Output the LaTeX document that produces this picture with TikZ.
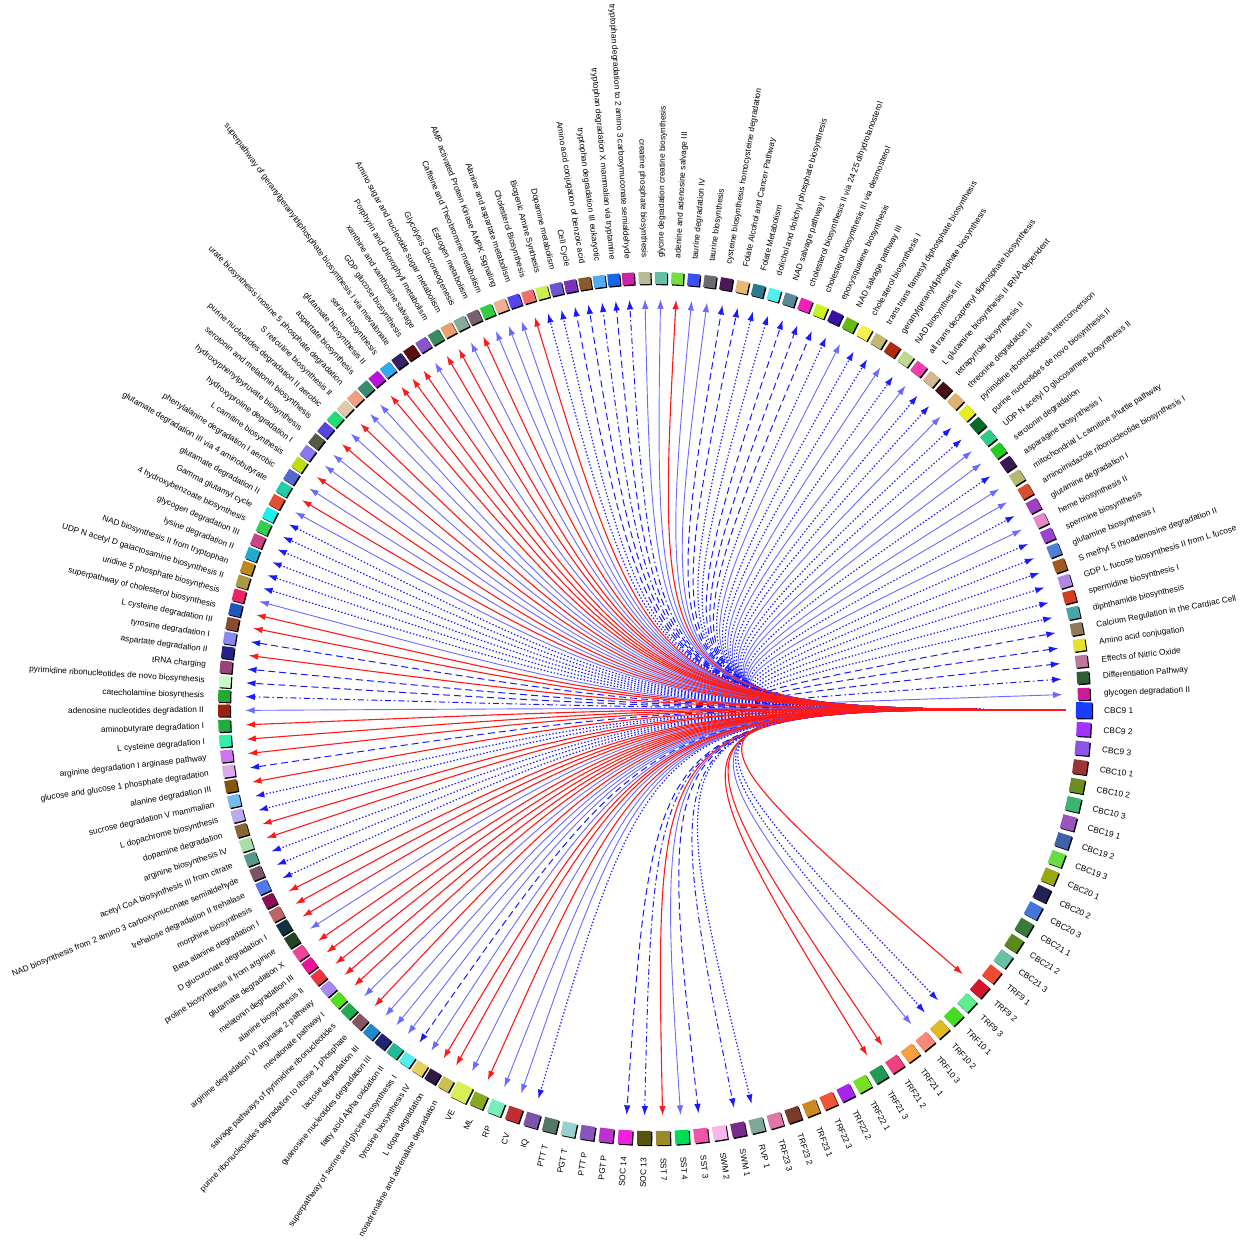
\documentclass[tikz,border=0pt]{standalone}
\usepackage{fontspec}
\setmainfont{Liberation Sans}
\usetikzlibrary{arrows.meta,shadows}
\definecolor{ered}{HTML}{FF1A1A}
\definecolor{eblue}{HTML}{1A1AFF}
\definecolor{elblue}{HTML}{6A6AFF}
\tikzset{
  sq/.style={minimum size=12pt,inner sep=0pt,draw=none,
    drop shadow={fill=black,opacity=1,shadow xshift=1.2pt,shadow yshift=-1.2pt}},
  lab/.style={font=\fontsize{8.3}{9}\selectfont,inner sep=0pt,text=black},
  eb/.style={line width=1pt,-{Latex[length=9.5pt,width=6.5pt]},shorten <=10pt,shorten >=15pt},
  eR/.style={eb,ered,line width=1.1pt},
  eB/.style={eb,elblue,line width=0.9pt},
  eD/.style={eb,eblue,dash pattern=on 7pt off 4pt},
  eT/.style={eb,eblue,line width=1.2pt,dash pattern=on 1.4pt off 2pt},
  eX/.style={eb,eblue,dash pattern=on 6pt off 3pt on 1.5pt off 3pt},
}
\begin{document}
\begin{tikzpicture}[x=1pt,y=1pt]
\useasboundingbox[fill=white] (-654,-540) rectangle (594,708);
\coordinate (ctr) at (0,0);
\foreach \i/\col/\lab in {
1/1A3CFF/CBC9 1,
2/CC1A99/glycogen degradation II,
3/2E5E38/Differentiation Pathway,
4/BB7A99/Effects of Nitric Oxide,
5/E6E030/Amino acid conjugation,
6/8F7A5A/Calcium Regulation in the Cardiac Cell,
7/4AA6A6/diphthamide biosynthesis,
8/D04020/spermidine biosynthesis I,
9/B088E0/GDP L fucose biosynthesis II from L fucose,
10/A05A20/S methyl 5 thioadenosine degradation II,
11/5080D8/glutamine biosynthesis I,
12/9944CC/spermine biosynthesis,
13/E688C8/heme biosynthesis II,
14/A040C0/glutamine degradation I,
15/D65030/aminoimidazole ribonucleotide biosynthesis I,
16/B8B870/mitochondrial L carnitine shuttle pathway,
17/3A1A50/asparagine biosynthesis I,
18/22CC22/serotonin degradation,
19/2ECC88/UDP N acetyl D glucosamine biosynthesis II,
20/0A6A2A/purine nucleotides de novo biosynthesis II,
21/E6EE20/pyrimidine ribonucleotides interconversion,
22/E0B070/threonine degradation II,
23/4A1018/tetrapyrrole biosynthesis II,
24/D4B890/L glutamine biosynthesis II tRNA dependent,
25/F040B0/all trans decaprenyl diphosphate biosynthesis,
26/C0D890/NAD biosynthesis III,
27/B02A10/geranylgeranyldiphosphate biosynthesis,
28/C0B870/trans trans farnesyl diphosphate biosynthesis,
29/F8F050/cholesterol biosynthesis I,
30/66BB11/NAD salvage pathway III,
31/3A10A0/epoxysqualene biosynthesis,
32/CCF020/cholesterol biosynthesis III via desmosterol,
33/EE22BB/cholesterol biosynthesis II via 24 25 dihydrolanosterol,
34/5A8A98/NAD salvage pathway II,
35/55EEEE/dolichol and dolichyl phosphate biosynthesis,
36/2A7A90/Folate Metabolism,
37/E8B878/Folate Alcohol and Cancer Pathway,
38/4A1A58/cysteine biosynthesis homocysteine degradation,
39/6A6A70/taurine biosynthesis,
40/3A50F0/taurine degradation IV,
41/77DD44/adenine and adenosine salvage III,
42/66C0A8/glycine degradation creatine biosynthesis,
43/B8BA98/creatine phosphate biosynthesis,
44/CC22AA/tryptophan degradation to 2 amino 3 carboxymuconate semialdehyde,
45/1A66E8/tryptophan degradation X mammalian via tryptamine,
46/55AAEE/tryptophan degradation III eukaryotic,
47/8A5A2A/Amino acid conjugation of benzoic acid,
48/7A33BB/Cell Cycle,
49/6A55CC/Dopamine metabolism,
50/CCEE55/Biogenic Amine Synthesis,
51/F07070/Cholesterol Biosynthesis,
52/5544EE/Alanine and aspartate metabolism,
53/F0B090/AMP activated Protein Kinase AMPK Signaling,
54/33CC44/Caffeine and Theobromine metabolism,
55/776070/Estrogen metabolism,
56/88AA99/Glycolysis Gluconeogenesis,
57/E8A070/Amino sugar and nucleotide sugar metabolism,
58/3A8A60/Porphyrin and chlorophyll metabolism,
59/8A55CC/xanthine and xanthosine salvage,
60/5A1010/GDP glucose biosynthesis,
61/332266/superpathway of geranylgeranyldiphosphate biosynthesis I via mevalonate,
62/33AAEE/serine biosynthesis,
63/BB11DD/glutamate biosynthesis II,
64/3A8A70/aspartate biosynthesis,
65/F0A080/urate biosynthesis inosine 5 phosphate degradation,
66/E0C8A8/S reticuline biosynthesis II,
67/22DD77/purine nucleotides degradation II aerobic,
68/5544DD/serotonin and melatonin biosynthesis,
69/555A48/hydroxyphenylpyruvate biosynthesis,
70/8877EE/hydroxyproline degradation I,
71/BBDD11/L carnitine biosynthesis,
72/5566CC/phenylalanine degradation I aerobic,
73/22CCAA/glutamate degradation III via 4 aminobutyrate,
74/E05030/glutamate degradation II,
75/22EEEE/Gamma glutamyl cycle,
76/33CC55/4 hydroxybenzoate biosynthesis,
77/CC4488/glycogen degradation III,
78/22AACC/lysine degradation II,
79/BB8822/NAD biosynthesis II from tryptophan,
80/AA9944/UDP N acetyl D galactosamine biosynthesis II,
81/EE2266/uridine 5 phosphate biosynthesis,
82/2255BB/superpathway of cholesterol biosynthesis,
83/8A4A30/L cysteine degradation III,
84/8888EE/tyrosine degradation I,
85/222288/aspartate degradation II,
86/994477/tRNA charging,
87/CCF8CC/pyrimidine ribonucleotides de novo biosynthesis,
88/22AA33/catecholamine biosynthesis,
89/992211/adenosine nucleotides degradation II,
90/22AA44/aminobutyrate degradation I,
91/33EEAA/L cysteine degradation I,
92/CC77EE/arginine degradation I arginase pathway,
93/DDAAEE/glucose and glucose 1 phosphate degradation,
94/885511/alanine degradation III,
95/77BBEE/sucrose degradation V mammalian,
96/BBAAEE/L dopachrome biosynthesis,
97/886633/dopamine degradation,
98/AADDAA/arginine biosynthesis IV,
99/559988/acetyl CoA biosynthesis III from citrate,
100/775566/NAD biosynthesis from 2 amino 3 carboxymuconate semialdehyde,
101/5577EE/trehalose degradation II trehalase,
102/881155/morphine biosynthesis,
103/BB6666/Beta alanine degradation I,
104/113344/D glucuronate degradation I,
105/224422/proline biosynthesis II from arginine,
106/EE4499/glutamate degradation X,
107/EE1199/melatonin degradation III,
108/EE3344/alanine biosynthesis II,
109/AA88EE/arginine degradation VI arginase 2 pathway,
110/55DD22/mevalonate pathway I,
111/22AA55/salvage pathways of pyrimidine ribonucleotides,
112/885566/purine ribonucleosides degradation to ribose 1 phosphate,
113/2288CC/lactose degradation III,
114/222277/guanosine nucleotides degradation III,
115/22BB99/fatty acid Alpha oxidation II,
116/55EEF0/superpathway of serine and glycine biosynthesis I,
117/E8D060/tyrosine biosynthesis IV,
118/331A44/L dopa degradation,
119/CCC055/noradrenaline and adrenaline degradation,
120/D8F055/VE,
121/88AA22/ML,
122/77EEBB/RP,
123/BB3030/CV,
124/7755AA/IQ,
125/557766/PTT T,
126/99D0D0/PGT T,
127/8855BB/PTT P,
128/BB33CC/PGT P,
129/EE22DD/SOC 14,
130/555510/SOC 13,
131/9A8A2A/SST 7,
132/00DD55/SST 4,
133/EE55AA/SST 3,
134/F8B8EE/SWM 2,
135/7A2A8A/SWM 1,
136/7FA89A/RVP 1,
137/E077AA/TRF23 3,
138/7A3A2A/TRF23 2,
139/CC8822/TRF23 1,
140/F05535/TRF22 3,
141/AA22EE/TRF22 2,
142/77E022/TRF22 1,
143/229955/TRF21 3,
144/F04080/TRF21 2,
145/F8A040/TRF21 1,
146/F88878/TRF10 3,
147/DDBB22/TRF10 2,
148/44DD22/TRF10 1,
149/5EEE8E/TRF9 3,
150/D0182A/TRF9 2,
151/F04A30/TRF9 1,
152/66C2A5/CBC21 3,
153/5A8A1A/CBC21 2,
154/3A7A3A/CBC21 1,
155/4477DD/CBC20 3,
156/222255/CBC20 2,
157/99AA11/CBC20 1,
158/66DD44/CBC19 3,
159/4060A8/CBC19 2,
160/9955BB/CBC19 1,
161/3CB371/CBC10 3,
162/6B8E23/CBC10 2,
163/9B3535/CBC10 1,
164/8B55E8/CBC9 3,
165/A033FF/CBC9 2}{
  \pgfmathsetmacro{\a}{ifthenelse(\i<45,-0.3+(\i-1)*2.18,ifthenelse(\i<90,93.44+(\i-44)*1.931,ifthenelse(\i<120,180.34+(\i-89)*2.023,243.4+(\i-120)*2.528)))}
  \pgfmathsetmacro{\sz}{ifthenelse(\i==1,16,ifthenelse(\i==120,17,ifthenelse(\i>119,14,12)))}
  \definecolor{tmp}{HTML}{\col}
  \node[sq,fill=tmp,rotate=\a,minimum size=\sz pt] (n\i) at (\a:430) {};
  \pgfmathtruncatemacro{\flip}{(\a>90)&&(\a<270)}
  \ifnum\flip=1
    \node[lab,anchor=east,rotate=\a-180] (l\i) at (\a:450) {\lab};
  \else
    \node[lab,anchor=west,rotate=\a] (l\i) at (\a:450) {\lab};
  \fi
}
\foreach \j/\s in {2/B,3/X,4/D,5/D,6/D,7/T,8/T,9/T,10/T,11/T,12/T,13/B,14/T,15/B,16/B,17/T,18/B,19/B,20/T,
21/T,22/B,23/T,24/T,25/B,26/T,27/B,28/T,29/T,30/B,31/T,32/D,33/D,34/D,35/T,36/T,37/D,38/D,39/B,40/B,
42/B,43/B,44/X,45/D,46/X,47/D,48/D,49/T,50/T,52/B,53/B,54/B,56/B,59/B,64/B,65/B,67/B,69/B,70/B,72/B,74/B,
75/T,76/T,77/T,78/T,79/T,80/T,81/B,84/D,86/D,87/D,88/X,89/B,93/D,95/T,96/T,99/T,100/T,101/T,105/B,111/B,
113/B,114/B,115/B,116/D,117/B,120/B,122/B,123/B,124/T,129/D,130/X,132/B,133/D,135/X,136/T,146/B,147/T,148/T,
41/R,51/R,55/R,57/R,58/R,60/R,61/R,62/R,63/R,66/R,68/R,71/R,73/R,82/R,83/R,85/R,90/R,91/R,92/R,94/R,97/R,98/R,
102/R,103/R,104/R,106/R,107/R,108/R,109/R,110/R,112/R,118/R,119/R,121/R,131/R,143/R,144/R,150/R}{
  \draw[e\s] (n1) .. controls (ctr) .. (n\j);
}
\end{tikzpicture}
\end{document}
